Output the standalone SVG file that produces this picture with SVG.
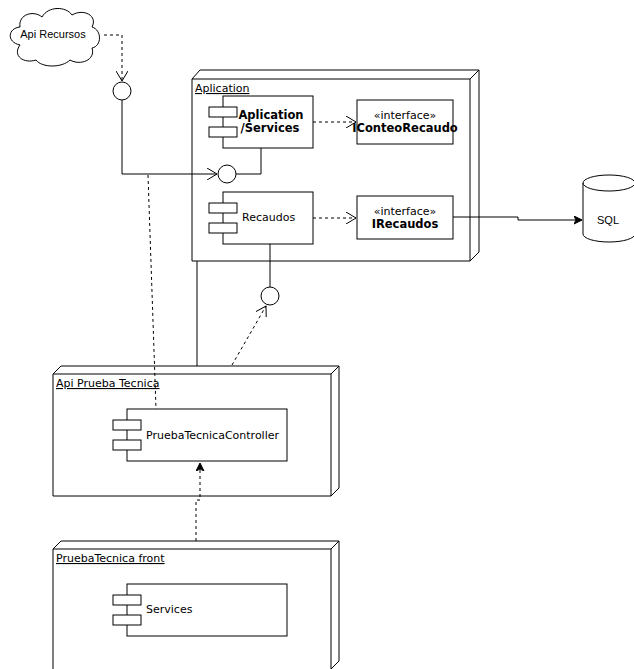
<svg xmlns="http://www.w3.org/2000/svg" width="634" height="669" viewBox="0 0 634 669">
<style>
.s{fill:#fff;stroke:#000;stroke-width:1}
.l{fill:none;stroke:#000;stroke-width:1}
.d{fill:none;stroke:#000;stroke-width:1;stroke-dasharray:3 3}
text{font-family:"DejaVu Sans",sans-serif;font-size:11px;fill:#000}
.b{font-weight:bold;font-size:11.5px}
.u{text-decoration:underline}
.c{font-family:"Liberation Sans",Arial,sans-serif}
</style>
<defs>
<marker id="o" markerWidth="12" markerHeight="12" refX="10" refY="6" orient="auto" markerUnits="userSpaceOnUse"><path d="M0,0 L10,6 L0,12" fill="none" stroke="#000"/></marker>
<marker id="f" markerWidth="10" markerHeight="10" refX="8" refY="4" orient="auto" markerUnits="userSpaceOnUse"><path d="M0,0 L8,4 L0,8 L2,4 Z" fill="#000" stroke="#000"/></marker>
</defs>
<rect width="634" height="669" fill="#fff"/>
<g id="api-recursos">
<path class="s" d="M20,45 C6,42 8,28 20,27 C18,14 34,10 42,17 C48,6 66,6 72,15 C84,8 98,16 92,27 C102,30 102,46 92,48 C96,60 80,66 70,60 C62,68 42,68 36,60 C24,64 12,56 20,45 Z"/>
<text x="53" y="38" text-anchor="middle" class="c">Api Recursos</text>
</g>
<g id="aplication">
<path class="s" d="M192,79 L200,70 L479,70 L479,252 L470,261 L192,261 Z"/>
<path class="l" d="M192,79 L470,79 L479,70 M470,79 L470,261"/>
<text x="195" y="92" class="u">Aplication</text>
</g>
<g id="app-services">
<rect class="s" x="223" y="96" width="90" height="52"/>
<rect class="s" x="209" y="107" width="28" height="10"/>
<rect class="s" x="209" y="127" width="28" height="10"/>
<text x="271" y="119" text-anchor="middle" class="b">Aplication</text>
<text x="270" y="132" text-anchor="middle" class="b">/Services</text>
</g>
<g id="iconteo">
<rect class="s" x="357" y="100" width="96" height="44"/>
<text x="405" y="119" text-anchor="middle">«interface»</text>
<text x="405" y="132" text-anchor="middle" class="b">IConteoRecaudo</text>
</g>
<g id="recaudos">
<rect class="s" x="223" y="192" width="90" height="52"/>
<rect class="s" x="209" y="203" width="28" height="10"/>
<rect class="s" x="209" y="223" width="28" height="10"/>
<text x="242" y="221">Recaudos</text>
</g>
<g id="irecaudos">
<rect class="s" x="357" y="196" width="96" height="43"/>
<text x="405" y="215" text-anchor="middle">«interface»</text>
<text x="405" y="228" text-anchor="middle" class="b">IRecaudos</text>
</g>
<g id="sql">
<path class="s" d="M583,183 L583,234 A26,8 0 0 0 635,234 L635,183 A26,8 0 0 0 583,183 Z"/>
<path class="l" d="M583,183 A26,8 0 0 0 635,183"/>
<text x="608" y="224" text-anchor="middle" class="c">SQL</text>
</g>
<g id="api-prueba">
<path class="s" d="M53,374 L61,366 L339,366 L339,488 L331,496 L53,496 Z"/>
<path class="l" d="M53,374 L331,374 L339,366 M331,374 L331,496"/>
<text x="56" y="387" class="u">Api Prueba Tecnica</text>
</g>
<g id="controller">
<rect class="s" x="127" y="409" width="160" height="52"/>
<rect class="s" x="113" y="420" width="28" height="10"/>
<rect class="s" x="113" y="440" width="28" height="10"/>
<text x="146" y="439">PruebaTecnicaController</text>
</g>
<g id="front">
<path class="s" d="M53,549 L61,541 L339,541 L339,661 L331,669 L331,680 L53,680 Z"/>
<path class="l" d="M53,549 L331,549 L339,541 M331,549 L331,680"/>
<text x="56" y="562" class="u">PruebaTecnica front</text>
</g>
<g id="services">
<rect class="s" x="127" y="584" width="160" height="52"/>
<rect class="s" x="113" y="595" width="28" height="10"/>
<rect class="s" x="113" y="615" width="28" height="10"/>
<text x="146" y="613">Services</text>
</g>
<g id="connectors">
<path class="d" d="M104,35 L122,35 L122,81" marker-end="url(#o)"/>
<circle class="s" cx="122" cy="91" r="9"/>
<path class="l" d="M122,100 L122,174 L217,174" marker-end="url(#o)"/>
<circle class="s" cx="227" cy="174" r="9"/>
<path class="l" d="M261,148 L261,174 L236,174"/>
<path class="d" d="M313,122 L356,122" marker-end="url(#o)"/>
<path class="d" d="M313,218 L356,218" marker-end="url(#o)"/>
<path class="l" d="M453,217 L518,217 L518,220 L582,220" marker-end="url(#f)"/>
<path class="l" d="M270,244 L270,287"/>
<circle class="s" cx="270" cy="296" r="9"/>
<path class="d" d="M232,365 L266,306" marker-end="url(#o)"/>
<path class="l" d="M197,261 L197,366"/>
<path class="d" d="M148,175 L156,409"/>
<path class="d" d="M196,541 L196,500 L200,500 L200,463" marker-end="url(#f)"/>
</g>
</svg>
